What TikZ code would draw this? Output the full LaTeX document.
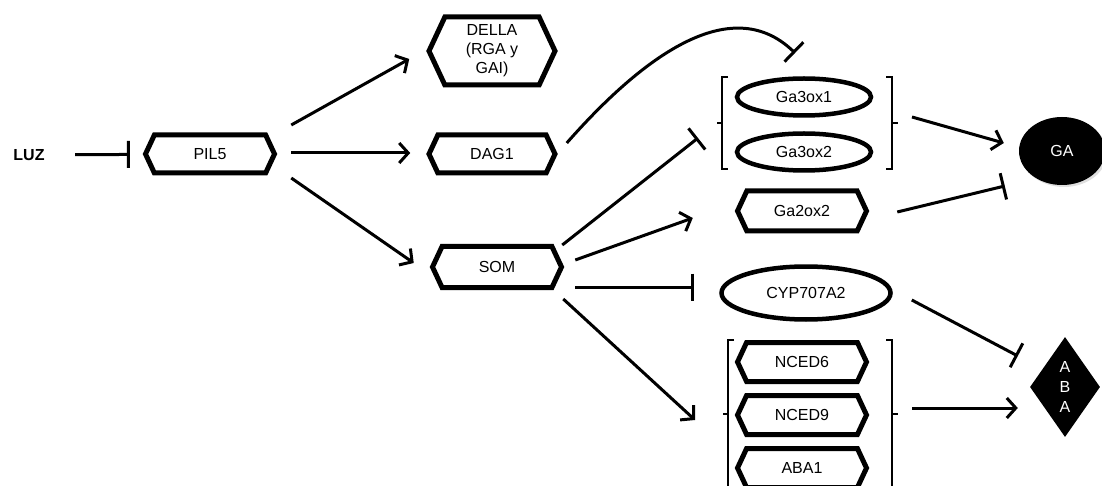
\documentclass[tikz,border=0pt]{standalone}
\usepackage{fontspec}
\setmainfont{Liberation Sans}
\usetikzlibrary{arrows.meta,shapes.symbols,shapes.geometric,shadows}

\begin{document}
\begin{tikzpicture}[x=1pt,y=-1pt,
        font=\fontsize{16}{19}\selectfont,
        hexbox/.style={signal, signal to=east and west, signal pointer angle=130, draw,
            line width=5pt, minimum width=129pt, minimum height=38pt, inner sep=0pt},
        ovalbox/.style={ellipse, draw, line width=4.5pt, inner sep=0pt,
            minimum width=134pt, minimum height=37pt},
        groupbox/.style={inner sep=0pt, outer sep=0pt},
        act/.style={line width=3pt, -{Straight Barb[length=9pt,width=20pt]}},
        inh/.style={line width=3pt, -{Bar[width=27pt]}},
        brk/.style={line width=1.5pt}]
        \useasboundingbox (0,0) rectangle (1102,486);

        \node[font=\fontsize{16}{19}\selectfont\bfseries] (luz) at (29,155) {LUZ};
        \node[hexbox] (pil5) at (210,154) {PIL5};
        \node[hexbox, minimum width=126pt, minimum height=68pt, align=center] (della) at (492,51) {DELLA\\(RGA y\\GAI)};
        \node[hexbox, minimum width=126pt] (dag1) at (492,154) {DAG1};
        \node[hexbox, minimum height=41pt] (som) at (497,267) {SOM};
        \node[ovalbox] (ga3ox1) at (804,97) {Ga3ox1};
        \node[ovalbox] (ga3ox2) at (804,152) {Ga3ox2};
        \node[hexbox, minimum height=40pt] (ga2ox2) at (802,211) {Ga2ox2};
        \node[ovalbox, minimum width=169pt, minimum height=53pt] (cyp) at (806,293) {CYP707A2};
        \node[hexbox, minimum height=39pt] (nced6) at (802,362) {NCED6};
        \node[hexbox, minimum height=39pt] (nced9) at (802,415) {NCED9};
        \node[hexbox, minimum height=39pt] (aba1) at (802,468) {ABA1};
        \node[ellipse, fill=black, text=white, minimum width=86pt, minimum height=68pt,
            drop shadow={shadow xshift=2pt, shadow yshift=-2pt, opacity=0.25}] (ga) at (1062,151) {GA};
        \node[diamond, fill=black, text=white, minimum width=70pt, minimum height=100pt,
            inner sep=0pt, align=center, font=\fontsize{16}{20}\selectfont] (aba) at (1065,387) {A\\B\\A};

        \node[groupbox, minimum width=170pt, minimum height=92pt] (ga3ox) at (807,123) {};
        \node[groupbox, minimum width=164pt, minimum height=148pt] (nced) at (810,414) {};

        \draw[brk] ([shift={(6,0)}]ga3ox.north west) -- (ga3ox.north west) -- (ga3ox.south west) -- ++(6,0);
        \draw[brk] (ga3ox.west) -- ++(-5,0);
        \draw[brk] ([shift={(-6,0)}]ga3ox.north east) -- (ga3ox.north east) -- (ga3ox.south east) -- ++(-6,0);
        \draw[brk] (ga3ox.east) -- ++(6,0);
        \draw[brk] ([shift={(6,0)}]nced.north west) -- (nced.north west) -- (nced.south west) -- ++(6,0);
        \draw[brk] (nced.west) -- ++(-5,0);
        \draw[brk] ([shift={(-6,0)}]nced.north east) -- (nced.north east) -- (nced.south east) -- ++(-6,0);
        \draw[brk] (nced.east) -- ++(6,0);

        \draw[inh, shorten <=27pt, shorten >=13pt] (luz) -- (pil5);
        \draw[act] ([shift={(14,-29)}]pil5.east) -- ([shift={(-17,8)}]della.west);
        \draw[act] ([shift={(14,-1)}]pil5.east) -- ([shift={(-16,-1)}]dag1.west);
        \draw[act] ([shift={(14,24)}]pil5.east) -- ([shift={(-16,-4)}]som.west);

        \draw[inh] ([shift={(9,-11)}]dag1.east) .. controls +(73,-83) and +(-65,-63) .. ([shift={(-12,-24)}]ga3ox.north);

        \draw[inh] ([shift={(-2,-22)}]som.east) -- ([shift={(-24,15)}]ga3ox.west);
        \draw[act] ([shift={(11,-7)}]som.east) -- ([shift={(-42,7)}]ga2ox2.west);
        \draw[inh] ([shift={(11,20)}]som.east) -- ([shift={(-25,-6)}]cyp.west);
        \draw[act] ([shift={(-1,32)}]som.east) -- ([shift={(-33,6)}]nced.west);

        \draw[act] ([shift={(20,-6)}]ga3ox.east) -- ([shift={(-15,-8)}]ga.west);
        \draw[inh] ([shift={(28,1)}]ga2ox2.east) -- ([shift={(-14,35)}]ga.west);
        \draw[inh] ([shift={(19,7)}]cyp.east) -- ([shift={(-12,-31)}]aba.west);
        \draw[act] ([shift={(20,-6)}]nced.east) -- ([shift={(-12,21)}]aba.west);

    \end{tikzpicture}
\end{document}
